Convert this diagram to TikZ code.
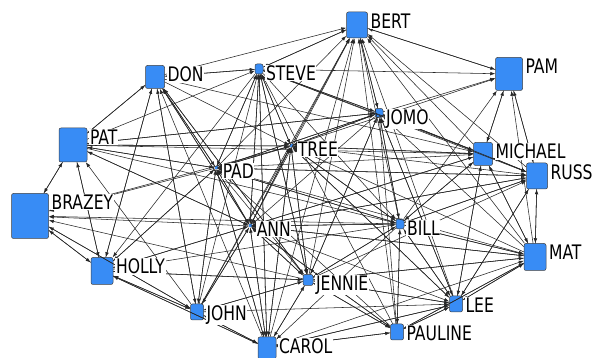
\documentclass[tikz,border=0pt]{standalone}
\usepackage{fontspec}
\setmainfont{DejaVu Sans}[FakeStretch=0.78]
\usetikzlibrary{arrows.meta}
\definecolor{nodeblue}{RGB}{56,140,245}
\begin{document}
\begin{tikzpicture}[x=1pt,y=-1pt,
  person/.style={draw=black!75, line width=0.5pt, fill=nodeblue, rounded corners=2pt, inner sep=0pt},
  dot/.style={fill=nodeblue, inner sep=0pt, minimum size=3pt},
  lbl/.style={fill=white, inner sep=0.6pt, font=\fontsize{20}{22}\selectfont, anchor=north west},
  edge/.style={line width=0.55pt, black!85, -{Latex[length=5pt,width=3.6pt]}}]
\useasboundingbox (0,0) rectangle (598,358);
% people
\node[person, minimum width=21, minimum height=26] (BERT) at (357,25) {};
\node[person, minimum width=27, minimum height=33] (PAM) at (509,74) {};
\node[person, minimum width=19, minimum height=23] (DON) at (155,77) {};
\node[person, minimum width=8, minimum height=10] (STEVE) at (259,69) {};
\node[person, minimum width=8, minimum height=9] (JOMO) at (379,113) {};
\node[person, minimum width=28, minimum height=34] (PAT) at (73,145) {};
\node[dot] (TREE) at (291,146) {};
\node[dot] (PAD) at (216,168) {};
\node[person, minimum width=19, minimum height=23] (MICHAEL) at (483,154) {};
\node[person, minimum width=21, minimum height=26] (RUSS) at (537,176) {};
\node[person, minimum width=37, minimum height=45] (BRAZEY) at (30,216) {};
\node[dot] (ANN) at (250,226) {};
\node[person, minimum width=8, minimum height=10] (BILL) at (400,224) {};
\node[person, minimum width=22, minimum height=27] (MAT) at (535,257) {};
\node[person, minimum width=22, minimum height=27] (HOLLY) at (102,271) {};
\node[person, minimum width=10, minimum height=11] (JENNIE) at (308,280) {};
\node[person, minimum width=13, minimum height=16] (JOHN) at (197,312) {};
\node[person, minimum width=13, minimum height=16] (LEE) at (456,304) {};
\node[person, minimum width=13, minimum height=16] (PAULINE) at (397,332) {};
\node[person, minimum width=18, minimum height=22] (CAROL) at (267,348) {};
% ties
\foreach \s/\t in {
  BRAZEY/PAT, BRAZEY/HOLLY, BRAZEY/JOHN,
  PAT/DON, PAT/BRAZEY, PAT/HOLLY, PAT/PAD, PAT/TREE, PAT/MICHAEL, PAT/JOMO, PAT/STEVE, PAT/ANN, PAT/BILL,
  DON/STEVE, DON/BERT, DON/PAT, DON/PAD, DON/TREE, DON/HOLLY, DON/MICHAEL, DON/ANN, DON/JENNIE, DON/JOHN,
  STEVE/BERT, STEVE/PAM, STEVE/DON, STEVE/JOMO, STEVE/PAD, STEVE/TREE, STEVE/MICHAEL, STEVE/ANN, STEVE/BILL, STEVE/JENNIE, STEVE/CAROL, STEVE/HOLLY, STEVE/RUSS,
  BERT/PAM, BERT/STEVE, BERT/JOMO,
  PAM/BERT, PAM/MICHAEL, PAM/RUSS,
  JOMO/BERT, JOMO/PAM, JOMO/MICHAEL, JOMO/BILL, JOMO/TREE, JOMO/PAD, JOMO/STEVE, JOMO/ANN, JOMO/RUSS, JOMO/LEE, JOMO/JENNIE, JOMO/PAT,
  TREE/BERT, TREE/PAM, TREE/STEVE, TREE/JOMO, TREE/PAT, TREE/PAD, TREE/MICHAEL, TREE/RUSS, TREE/BILL, TREE/ANN, TREE/JENNIE, TREE/CAROL, TREE/LEE, TREE/BRAZEY,
  PAD/PAT, PAD/DON, PAD/STEVE, PAD/TREE, PAD/BERT, PAD/JOMO, PAD/BRAZEY, PAD/HOLLY, PAD/ANN, PAD/JOHN, PAD/CAROL, PAD/BILL, PAD/MICHAEL, PAD/RUSS, PAD/MAT,
  MICHAEL/PAM, MICHAEL/BERT, MICHAEL/RUSS, MICHAEL/MAT, MICHAEL/JOMO, MICHAEL/LEE, MICHAEL/BILL, MICHAEL/TREE, MICHAEL/ANN,
  RUSS/PAM, RUSS/MAT, RUSS/MICHAEL, RUSS/BERT, RUSS/LEE, RUSS/BILL, RUSS/ANN, RUSS/PAD,
  MAT/RUSS, MAT/PAM, MAT/MICHAEL, MAT/LEE, MAT/BILL, MAT/JENNIE, MAT/ANN, MAT/PAULINE, MAT/BERT, MAT/TREE, MAT/JOMO,
  ANN/BRAZEY, ANN/PAT, ANN/HOLLY, ANN/JOHN, ANN/CAROL, ANN/PAD, ANN/TREE, ANN/STEVE, ANN/BERT, ANN/BILL, ANN/MAT, ANN/RUSS, ANN/MICHAEL, ANN/JENNIE, ANN/LEE, ANN/PAULINE, ANN/DON,
  BILL/BERT, BILL/PAM, BILL/JOMO, BILL/PAULINE, BILL/LEE, BILL/MAT, BILL/RUSS, BILL/CAROL, BILL/JENNIE, BILL/ANN, BILL/PAD, BILL/TREE, BILL/BRAZEY, BILL/MICHAEL,
  HOLLY/BRAZEY, HOLLY/JOHN, HOLLY/PAT, HOLLY/DON, HOLLY/ANN, HOLLY/CAROL, HOLLY/PAD, HOLLY/JENNIE, HOLLY/BILL,
  JENNIE/BERT, JENNIE/STEVE, JENNIE/JOMO, JENNIE/CAROL, JENNIE/PAULINE, JENNIE/LEE, JENNIE/BILL, JENNIE/ANN, JENNIE/PAD, JENNIE/TREE, JENNIE/MAT, JENNIE/RUSS, JENNIE/JOHN, JENNIE/HOLLY, JENNIE/BRAZEY, JENNIE/DON,
  JOHN/HOLLY, JOHN/CAROL, JOHN/BRAZEY, JOHN/PAT, JOHN/DON, JOHN/ANN, JOHN/JENNIE, JOHN/PAD, JOHN/TREE, JOHN/BERT, JOHN/STEVE, JOHN/LEE,
  LEE/MAT, LEE/PAULINE, LEE/BILL, LEE/RUSS, LEE/MICHAEL, LEE/JENNIE, LEE/CAROL, LEE/JOMO, LEE/BERT, LEE/TREE,
  PAULINE/CAROL, PAULINE/LEE, PAULINE/BILL, PAULINE/JENNIE, PAULINE/MAT, PAULINE/BERT, PAULINE/STEVE, PAULINE/PAD, PAULINE/ANN, PAULINE/JOMO,
  CAROL/JOHN, CAROL/PAULINE, CAROL/LEE, CAROL/JENNIE, CAROL/BERT, CAROL/STEVE, CAROL/PAD, CAROL/ANN, CAROL/TREE, CAROL/HOLLY, CAROL/DON, CAROL/MAT}
  \draw[edge] (\s) -- (\t);
% labels
\foreach \n in {BERT, PAM, DON, STEVE, JOMO, PAT, MICHAEL, RUSS, BRAZEY, BILL, MAT, HOLLY, JENNIE, JOHN, LEE, PAULINE, CAROL}
  \node[lbl] (\n-l) at ([shift={(2,1)}]\n.north east) {\n};
\foreach \n in {TREE, PAD, ANN}
  \node[lbl] (\n-l) at ([shift={(6,-5)}]\n.center) {\n};
\end{tikzpicture}
\end{document}
